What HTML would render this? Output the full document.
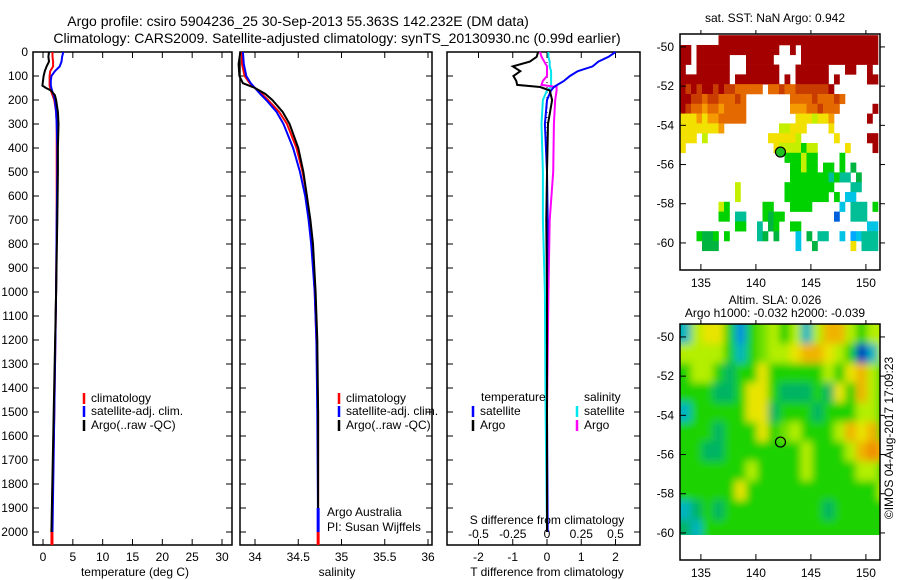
<!DOCTYPE html>
<html><head><meta charset="utf-8"><style>
body{margin:0;background:#fff}
svg{display:block;font-family:"Liberation Sans",sans-serif}
</style></head><body>
<svg id="fig" width="900" height="580" viewBox="0 0 900 580">
<defs>
<clipPath id="cp1"><rect x="680" y="34" width="200" height="236"/></clipPath>
<clipPath id="cp2"><rect x="680" y="324" width="200" height="211"/></clipPath>
<filter id="blur" x="-5%" y="-5%" width="110%" height="110%"><feGaussianBlur stdDeviation="4"/></filter>
</defs>
<text x="298" y="26" font-size="14" text-anchor="middle">Argo profile: csiro 5904236_25 30-Sep-2013 55.363S 142.232E (DM data)</text>
<text x="337" y="43" font-size="14" text-anchor="middle">Climatology: CARS2009. Satellite-adjusted climatology: synTS_20130930.nc (0.99d earlier)</text>
<g id="plots"></g>
<text x="775" y="22" font-size="12" text-anchor="middle">sat. SST: NaN Argo: 0.942</text>
<text x="775" y="304" font-size="12" text-anchor="middle">Altim. SLA: 0.026</text>
<text x="775" y="317" font-size="12" text-anchor="middle">Argo h1000: -0.032 h2000: -0.039</text>
<text transform="translate(893,438) rotate(-90)" font-size="12" text-anchor="middle">©IMOS 04-Aug-2017 17:09:23</text>
</svg>
<script>
// ---- profile data ----
const depthT = [0,20,40,60,80,100,120,140,150,160,180,200,250,300,400,500,700,1000,1500,2000];
const tempClim = [1.6,1.6,1.7,1.7,1.2,1.1,1.1,1.1,1.2,1.3,1.6,1.9,2.2,2.3,2.3,2.3,2.3,2.2,1.9,1.5];
const tempSat = [3.4,3.2,3.1,2.8,2.0,1.4,1.3,1.3,1.4,1.5,1.8,2.0,2.2,2.3,2.4,2.4,2.3,2.2,1.9,1.6];
const tempArgo = [1.0,0.9,1.0,0.6,0.3,0.1,0.0,-0.1,0.5,1.3,2.0,2.2,2.5,2.6,2.5,2.5,2.4,2.2,1.8,1.4];
const depthS = [0,50,100,130,150,175,200,250,300,400,500,600,700,800,1000,1200,1500,2000];
const salArgo = [33.83,33.81,33.82,33.86,34.0,34.12,34.2,34.32,34.4,34.5,34.56,34.6,34.64,34.67,34.7,34.72,34.73,34.73];
const salClim = [33.85,33.85,33.88,33.94,34.0,34.08,34.15,34.28,34.37,34.48,34.55,34.6,34.63,34.66,34.69,34.71,34.73,34.73];
const salSat = [33.86,33.87,33.9,33.95,34.0,34.06,34.13,34.25,34.33,34.44,34.52,34.58,34.62,34.65,34.69,34.71,34.72,34.73];
const depthD = [0,20,40,60,80,100,120,137,146,160,200,300,500,700,1000,1500,2000];
const tDiffArgo = [-0.26,-0.3,-0.5,-1.0,-0.78,-0.98,-0.9,-0.87,-0.2,0.08,0.15,0.03,0.0,-0.02,0.0,0.0,0.0];
const tDiffSat = [2.0,1.8,1.5,1.33,0.9,0.67,0.5,0.3,0.2,0.12,0.0,-0.06,0.0,0.02,0.0,0.0,0.02];
const sDiffArgo = [-0.05,-0.04,-0.02,0.0,0.0,0.0,-0.03,-0.04,0.07,0.07,0.06,0.05,0.045,0.02,0.01,0.0,0.0];
const sDiffSat = [0.01,0.01,0.02,0.02,0.03,0.03,0.03,0.03,0.03,0.0,-0.03,-0.04,-0.03,-0.03,-0.015,-0.01,0.0];
const depthTicks = [0,100,200,300,400,500,600,700,800,900,1000,1100,1200,1300,1400,1500,1600,1700,1800,1900,2000];
const tempTicks = [0,5,10,15,20,25,30];
const salTicks = [34,34.5,35,35.5,36];
const tdTicks = [-2,-1,0,1,2];
const sdTicks = [-0.5,-0.25,0,0.25,0.5];
const sdTickLabels = ['-0.5','-0.25','0','0.25','0.5'];
// ---- SST map (0.5 deg cells, rows from -49.4 going south, cols from 133.1 east) ----
const sstRows = [
".......RRRRRRRRRRRRRRRRRRRRRRRRRRRRR",
"RR.RRRRRRRRRRRRRRR..R.RRRRRRRRRRRRRR",
"RR.RRRRRR...RRRRR.....RRRRRRRRRRRRRR",
"R..RRRRRR...RRRRRR...RRRRRR...RR..R.",
"RRRRRRRRR.RRRRRRRR.R.RRRRRR.R.....RR",
"RrRrRRrRrrOOOOO.OOrOOrrrrrrR........",
"RRrrOrrOOOrO........OOOOrOOOrO......",
"RrOOoOOoOOOO........oooOOrOOO......R",
"yyyoyooOOOOO.........yyylyyo......R.",
"yyyyyyyo..........llyyy....y........",
"yyy.l...........yyyyyl......y.....RR",
"y................yllllgll.....y....R",
"...................ggglgg....g......",
"....................gglgg.gg.g.G....",
"....................gggggggtgtt.G...",
"..........l........ggggggggg...tt...",
"..........l........gggggggg.g.cc....",
".......lg......gg...gggg.....c.ttt.g",
".......gg.tt...gGgg.........b..ttt..",
"..........gg..t.Gg..gg............cc",
"...gGGg.g.....tG.G...c.G.tt..c.Ccttt",
"....GGG..............c..G......y.ttt",
"....................................",
"...................................."];
const sstColors = {R:"#a50000",r:"#c83c00",O:"#e46a00",o:"#f59a00",y:"#f2e000",l:"#c4f000",g:"#00d200",G:"#00b440",t:"#00be96",c:"#00c4e6",C:"#00a8ff",b:"#0060dc"};
// ---- SLA map (1 deg cells) ----
const slaRows = [
"cyYYgbglygycyooygyy",
"yyyygcglyyYooYygBcy",
"gyygGggYgggggygYoyg",
"gggGGgYYgGGGgGYgoyg",
"cgggggYYGgggGgggyyg",
"gggGgggYglygggyoYog",
"ggGGgggggggygggyoOo",
"ggggggyggggyggggyyg",
"gggggYggggggggggggy",
"cGgGgggggggggGggggg",
"Gcggggggggggggggggg"];
const slaColors = {g:"#1ed200",G:"#00b464",y:"#b4ee00",Y:"#e8e400",o:"#f0b400",O:"#f08c00",b:"#0090e0",B:"#0030c0",c:"#00b4c0",l:"#6ee000"};
const floatLon = 142.232, floatLat = -55.363;
const lonTicks = [135,140,145,150];
const latTicks = [-50,-52,-54,-56,-58,-60];

const NS="http://www.w3.org/2000/svg";
const root=document.getElementById('plots');
function el(tag,attrs,parent){const e=document.createElementNS(NS,tag);for(const k in attrs)e.setAttribute(k,attrs[k]);(parent||root).appendChild(e);return e;}
const Y0=52, PXD=0.24;
const yD=d=>Y0+d*PXD;
const panels=[
 {x0:33,x1:232,name:'temperature'},
 {x0:240,x1:432,name:'salinity'},
 {x0:447,x1:640,name:'difference'}];
const xT=v=>43+v*5.967;
const xS=v=>255+(v-34)*86.5;
const xTD=v=>547+v*34.25;
const xSD=v=>547+v*137;

function line(xs,ds,fx,color,w,name){
  let p='';xs.forEach((v,i)=>{p+=(i?'L':'M')+fx(v).toFixed(1)+','+yD(ds[i]).toFixed(1);});
  const e=el('path',{d:p,fill:'none',stroke:color,'stroke-width':w,'stroke-linejoin':'miter'});
  
  
}
function txt(x,y,s,attrs,name){const t=el('text',Object.assign({x:x,y:y,'font-size':12},attrs||{}));t.textContent=s;
  
  return t;}

panels.forEach(p=>{
  const r=el('rect',{x:p.x0,y:Y0,width:p.x1-p.x0,height:545-Y0,fill:'none',stroke:'#000','stroke-width':1.5});
  
  
  depthTicks.forEach(d=>{
    el('line',{x1:p.x0,x2:p.x0+6,y1:yD(d),y2:yD(d),stroke:'#000'});
    el('line',{x1:p.x1-6,x2:p.x1,y1:yD(d),y2:yD(d),stroke:'#000'});
  });
});
depthTicks.forEach(d=>txt(28,yD(d)+4,String(d),{'text-anchor':'end'},'depth-tick-label'));
function xticks(ticks,fx,labels,name){ticks.forEach((v,i)=>{const x=fx(v);
  el('line',{x1:x,x2:x,y1:545,y2:539,stroke:'#000'});el('line',{x1:x,x2:x,y1:Y0,y2:Y0+6,stroke:'#000'});
  txt(x,561,labels?labels[i]:String(v),{'text-anchor':'middle'},name);});}
xticks(tempTicks,xT,null,'temperature-tick-label');
xticks(salTicks,xS,null,'salinity-tick-label');
xticks(tdTicks,xTD,null,'t-diff-tick-label');
sdTicks.forEach((v,i)=>{txt(xSD(v),538,sdTickLabels[i],{'text-anchor':'middle'},'s-diff-tick-label');});
txt(135,576,'temperature (deg C)',{'text-anchor':'middle'},'temperature-axis-title');
txt(337,576,'salinity',{'text-anchor':'middle'},'salinity-axis-title');
txt(547,576,'T difference from climatology',{'text-anchor':'middle'},'t-diff-axis-title');
txt(547,524,'S difference from climatology',{'text-anchor':'middle'},'s-diff-axis-title');

// temperature
line(tempClim,depthT,xT,'#ff0000',2,'temp-climatology-line');
line(tempSat,depthT,xT,'#0000ff',2,'temp-satellite-line');
line(tempArgo,depthT,xT,'#000000',2,'temp-argo-line');
el('line',{x1:xT(1.5),x2:xT(1.5),y1:yD(2000),y2:545,stroke:'#ff0000','stroke-width':3});
// salinity
line(salClim,depthS,xS,'#ff0000',2,'sal-climatology-line');
line(salSat,depthS,xS,'#0000ff',2,'sal-satellite-line');
line(salArgo,depthS,xS,'#000000',2,'sal-argo-line');
el('line',{x1:xS(34.73),x2:xS(34.73),y1:yD(1900),y2:yD(2000),stroke:'#0000ff','stroke-width':3});
el('line',{x1:xS(34.73),x2:xS(34.73),y1:yD(2000),y2:545,stroke:'#ff0000','stroke-width':3});
// differences
el('line',{x1:xTD(0),x2:xTD(0),y1:Y0,y2:yD(1980),stroke:'#000','stroke-dasharray':'1,4'});
line(sDiffSat,depthD,xSD,'#00e5ee',2,'s-diff-satellite-line');
line(sDiffArgo,depthD,xSD,'#ff00ff',2,'s-diff-argo-line');
line(tDiffSat,depthD,xTD,'#0000ff',2,'t-diff-satellite-line');
line(tDiffArgo,depthD,xTD,'#000000',2,'t-diff-argo-line');

// legends
function leg(x,y,color,label,name){el('line',{x1:x,x2:x,y1:y-9,y2:y+2,stroke:color,'stroke-width':2.5});txt(x+7,y,label,{},name);}
[[33,'#ff0000','climatology'],[46,'#0000ff','satellite-adj. clim.'],[60,'#000','Argo(..raw -QC)']].forEach((a,i)=>{
  leg(84,369+a[0],a[1],a[2],'temp-legend-entry');leg(339,369+a[0],a[1],a[2],'sal-legend-entry');});
txt(481,401,'temperature',{},'diff-legend-heading-temperature');
txt(584,401,'salinity',{},'diff-legend-heading-salinity');
leg(473,415,'#0000ff','satellite','diff-legend-t-satellite');
leg(473,429,'#000','Argo','diff-legend-t-argo');
leg(577,415,'#00e5ee','satellite','diff-legend-s-satellite');
leg(577,429,'#ff00ff','Argo','diff-legend-s-argo');
txt(327,516,'Argo Australia',{},'credit-argo-australia');
txt(327,531,'PI: Susan Wijffels',{},'credit-pi');

// ---- maps ----
const LON0=133.1,LAT0=-49.34,PXLON=11.0,PXLAT=19.6;
const mx=lon=>680+(lon-LON0)*PXLON;
const my=(lat,off)=>off+34+(LAT0-lat)*PXLAT;
function mapFrame(off,name){
  const r=el('rect',{x:680,y:34+off,width:200,height:236,fill:'none',stroke:'#000','stroke-width':1.5});
  
  
  lonTicks.forEach(v=>{el('line',{x1:mx(v),x2:mx(v),y1:270+off,y2:264+off,stroke:'#000'});el('line',{x1:mx(v),x2:mx(v),y1:34+off,y2:30+off,stroke:'#000'});
    txt(mx(v),287+off,String(v),{'text-anchor':'middle'},'map-lon-label');});
  latTicks.forEach(v=>{el('line',{x1:680,x2:686,y1:my(v,off),y2:my(v,off),stroke:'#000'});el('line',{x1:880,x2:885,y1:my(v,off),y2:my(v,off),stroke:'#000'});
    txt(674,my(v,off)+4,String(v),{'text-anchor':'end'},'map-lat-label');});
  const c=el('circle',{cx:mx(floatLon),cy:my(floatLat,off),r:5,fill:off?'none':'#20c020',stroke:'#000','stroke-width':1.2});
  
  
}
const g1=el('g',{'clip-path':'url(#cp1)'});
sstRows.forEach((row,i)=>{for(let j=0;j<36;j++){const ch=row[j];if(!ch||ch==='.')continue;
  const lon=LON0+j*0.5, lat=-49.4-i*0.5;
  el('rect',{x:mx(lon),y:my(lat,0),width:0.5*PXLON+0.3,height:0.5*PXLAT+0.3,fill:sstColors[ch]},g1);}});
mapFrame(0,'sst-map-frame');
const g2=el('g',{'clip-path':'url(#cp2)'});
const g2b=el('g',{filter:'url(#blur)'},g2);
slaRows.forEach((row,i)=>{for(let j=0;j<row.length;j++){const ch=row[j];
  const lon=LON0+j, lat=-49.34-i;
  const x=mx(lon)-(j===0?8:0), y=my(lat,290)-(i===0?8:0);
  const w=PXLON+0.5+(j===0?8:0)+(j===row.length-1?10:0);
  const h=PXLAT+0.5+(i===0?8:0)+(i===slaRows.length-1?10:0);
  el('rect',{x:x,y:y,width:w,height:h,fill:slaColors[ch]},g2b);}});
mapFrame(290,'sla-map-frame');
</script>
</body></html>
